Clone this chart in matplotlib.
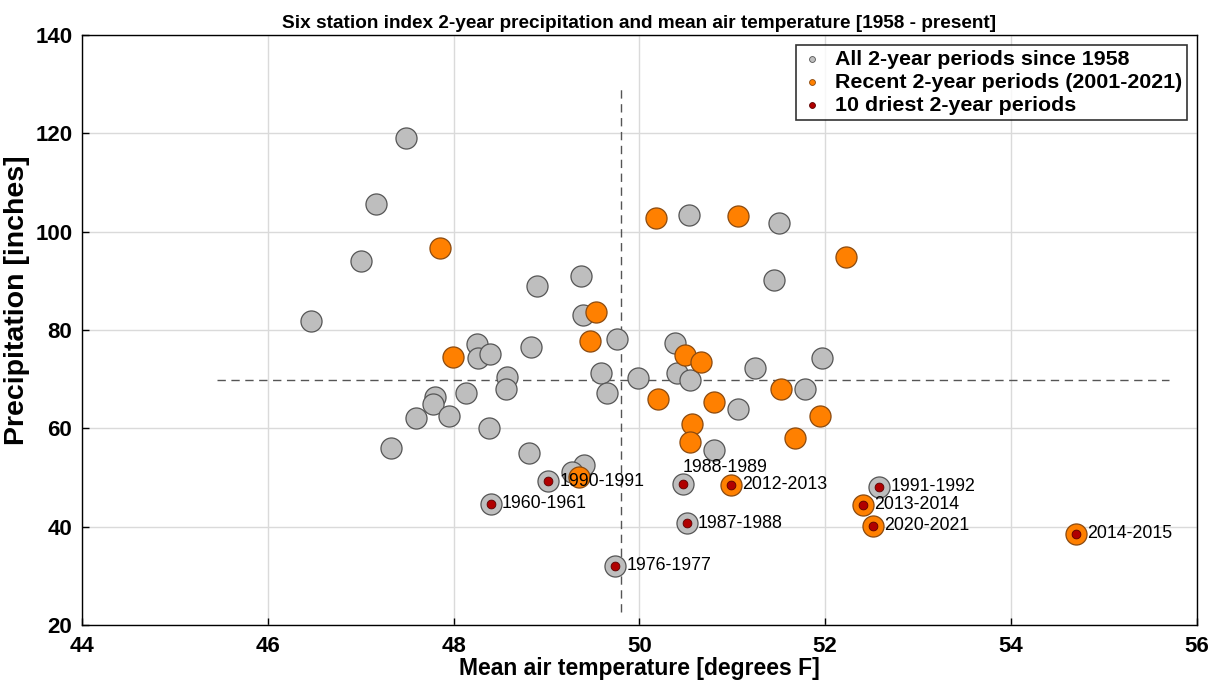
import numpy as np
import matplotlib
matplotlib.use('Agg')
import matplotlib.pyplot as plt

plt.rcParams['font.family'] = ['Liberation Sans', 'DejaVu Sans']

# ─── Data ─────────────────────────────────────────────────────────────────────
# all 2-year periods (grey)
all_temp = [47.49, 47.17, 47.00, 49.37, 48.90, 46.46, 49.39, 49.76, 48.25, 48.26,
            48.39, 48.83, 48.58, 48.56, 49.59, 49.98, 49.65, 48.13, 47.80, 47.78,
            47.59, 47.95, 48.38, 47.33, 48.81, 50.53, 51.50, 51.45, 50.38, 50.40,
            50.54, 51.24, 51.97, 51.06, 51.78, 50.80, 49.40, 49.27,
            49.02, 48.40, 50.47, 50.51, 49.74, 52.58]
all_prcp = [119.1, 105.6, 94.0, 90.9, 89.0, 81.85, 83.0, 78.2, 77.1, 74.3,
            75.1, 76.6, 70.5, 68.0, 71.3, 70.3, 67.1, 67.1, 66.3, 64.9,
            62.0, 62.5, 60.1, 56.0, 55.0, 103.5, 101.8, 90.1, 77.3, 71.2,
            69.8, 72.3, 74.3, 63.9, 68.1, 55.6, 52.5, 51.2,
            49.2, 44.65, 48.6, 40.7, 32.05, 48.1]

# recent 2-year periods 2001-2021 (orange)
rec_temp = [47.85, 50.18, 51.06, 52.22, 49.53, 49.47, 47.99, 50.49, 50.66, 50.20,
            50.80, 51.52, 51.94, 50.57, 50.54, 51.68, 49.35,
            50.99, 52.41, 52.52, 54.70]
rec_prcp = [96.6, 102.8, 103.3, 94.9, 83.6, 77.7, 74.5, 74.9, 73.5, 65.9,
            65.4, 68.0, 62.5, 60.85, 57.3, 58.1, 50.0,
            48.5, 44.5, 40.2, 38.5]

# 10 driest 2-year periods (red)
dry_labels = ['1990-1991', '1960-1961', '1988-1989', '2012-2013', '1987-1988',
              '1976-1977', '1991-1992', '2013-2014', '2020-2021', '2014-2015']
dry_temp = [49.02, 48.40, 50.47, 50.99, 50.51, 49.74, 52.58, 52.41, 52.52, 54.70]
dry_prcp = [49.2, 44.65, 48.6, 48.5, 40.7, 32.05, 48.1, 44.5, 40.2, 38.5]

# mean reference lines
mean_temp = 49.8
mean_prcp = 69.8
vline_span = [22.6, 129.1]
hline_span = [45.45, 55.7]

GREY = '#BEBEBE'
ORANGE = '#FF8000'
RED = '#B00000'

fig = plt.figure(figsize=(12.15, 6.89), dpi=100)
ax = fig.add_axes([0.0675, 0.093, 0.9175, 0.856])

ax.plot([mean_temp, mean_temp], vline_span, ls='--', color='#555555', lw=1.0,
        dashes=(6, 4), zorder=2)
ax.plot(hline_span, [mean_prcp, mean_prcp], ls='--', color='#555555', lw=1.0,
        dashes=(6, 4), zorder=2)

ax.scatter(all_temp, all_prcp, s=230, c=GREY, edgecolors='#555555',
           linewidths=0.9, zorder=3)
ax.scatter(rec_temp, rec_prcp, s=230, c=ORANGE, edgecolors='#8A4A10',
           linewidths=0.9, zorder=4)
ax.scatter(dry_temp, dry_prcp, s=40, c=RED, edgecolors='#5a0000',
           linewidths=0.6, zorder=5)

# legend handles
ax.scatter([], [], s=18, c=GREY, edgecolors='#555555', linewidths=0.6,
           label='All 2-year periods since 1958')
ax.scatter([], [], s=18, c=ORANGE, edgecolors='#8A4A10', linewidths=0.6,
           label='Recent 2-year periods (2001-2021)')
ax.scatter([], [], s=18, c=RED, edgecolors='#5a0000', linewidths=0.6,
           label='10 driest 2-year periods')

for lab, t, p in zip(dry_labels, dry_temp, dry_prcp):
    if lab == '1988-1989':
        ax.annotate(lab, (t, p), xytext=(0, 12), textcoords='offset points',
                    ha='left', va='center', fontsize=12.8, zorder=6)
    else:
        ax.annotate(lab, (t, p), xytext=(8, 0), textcoords='offset points',
                    ha='left', va='center', fontsize=12.8, zorder=6)

ax.set_xlim(44, 56)
ax.set_ylim(20, 140)
ax.set_xticks(np.arange(44, 57, 2))
ax.set_yticks(np.arange(20, 141, 20))
ax.grid(True, color='#DADADA', lw=1.0)
ax.set_axisbelow(True)
ax.tick_params(direction='in', length=5, labelsize=16, width=1)
ax.tick_params(axis='x', pad=8)
ax.tick_params(axis='y', pad=7)
for lbl in ax.get_xticklabels() + ax.get_yticklabels():
    lbl.set_fontweight('bold')
for sp in ax.spines.values():
    sp.set_linewidth(1.0)

ax.set_xlabel('Mean air temperature [degrees F]', fontsize=16.5, fontweight='bold',
              labelpad=0)
ax.set_ylabel('Precipitation [inches]', fontsize=20.5, fontweight='bold')
ax.yaxis.set_label_coords(-0.047, 0.55)
ax.set_title('Six station index 2-year precipitation and mean air temperature [1958 - present]',
             fontsize=13.7, fontweight='bold', pad=5)

leg = ax.legend(loc='upper right', prop={'weight': 'bold', 'size': 15.4},
                frameon=True, fancybox=False, edgecolor='black',
                borderpad=0.25, labelspacing=0.18, handletextpad=0.55,
                handlelength=1.0, borderaxespad=0.45)
leg.get_frame().set_linewidth(1.2)

fig.savefig('out.png', dpi=100)
